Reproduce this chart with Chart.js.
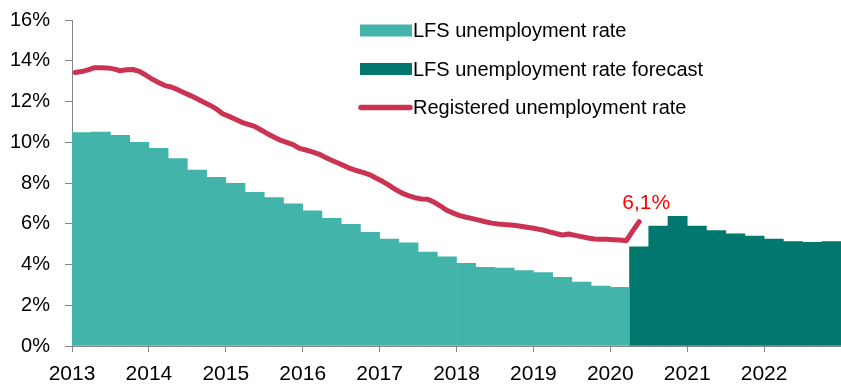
<!DOCTYPE html>
<html>
<head>
<meta charset="utf-8">
<script src="https://cdn.jsdelivr.net/npm/chart.js@4"></script>
<style>
  body { margin: 0; background: #fff; }
  #wrap { width: 841px; height: 387px; }
</style>
</head>
<body>
<div id="wrap"><canvas id="myChart"></canvas></div>
<script>
// data
const startYear = 2013;
const yearLabels = ["2013", "2014", "2015", "2016", "2017", "2018", "2019", "2020", "2021", "2022"];

// quarterly LFS rate, 2013Q1 - 2020Q1
const lfsActual = [10.47, 10.5, 10.34, 10.0, 9.7, 9.2, 8.64, 8.28, 7.98, 7.54, 7.28, 6.98,
  6.64, 6.27, 5.97, 5.58, 5.25, 5.06, 4.61, 4.38, 4.06, 3.86, 3.83, 3.7,
  3.6, 3.37, 3.14, 2.94, 2.88];
// quarterly forecast, 2020Q2 - 2022Q4
const lfsForecast = [4.87, 5.89, 6.36, 5.89, 5.66, 5.51, 5.4, 5.25, 5.12, 5.09, 5.12];

// monthly registered rate, Jan 2013 - May 2020
const registered = [13.42, 13.47, 13.55, 13.66, 13.66, 13.65, 13.6, 13.51, 13.56, 13.57, 13.48, 13.3,
  13.1, 12.93, 12.78, 12.71, 12.58, 12.43, 12.29, 12.14, 11.98, 11.82, 11.64, 11.4,
  11.27, 11.13, 10.98, 10.88, 10.78, 10.6, 10.42, 10.26, 10.1, 9.99, 9.88, 9.7,
  9.62, 9.53, 9.42, 9.26, 9.12, 8.98, 8.84, 8.7, 8.6, 8.51, 8.4, 8.23,
  8.07, 7.88, 7.68, 7.5, 7.38, 7.28, 7.22, 7.2, 7.06, 6.87, 6.66, 6.52,
  6.4, 6.32, 6.25, 6.18, 6.1, 6.03, 5.99, 5.96, 5.94, 5.9, 5.85, 5.8,
  5.75, 5.69, 5.6, 5.52, 5.45, 5.5, 5.43, 5.37, 5.3, 5.25, 5.24, 5.24,
  5.22, 5.2, 5.17, 5.65, 6.1];

const yTicks = [0, 2, 4, 6, 8, 10, 12, 14, 16];
const lastLabel = "6,1%";

const colActual = "#43b4a9";
const colForecast = "#00786d";
const colLine = "#cc3352";
const axisGrey = "#868686";

const fontFam = "'Liberation Sans', Arial, sans-serif";

// position helpers (middle of a quarter / month, in decimal years)
const qPos = (i) => startYear + (i + 0.5) / 4;
const mPos = (i) => startYear + (i + 0.5) / 12;

const actualPts = lfsActual.map((v, i) => ({ x: qPos(i), y: v }));
const forecastPts = lfsForecast.map((v, i) => ({ x: qPos(i + lfsActual.length), y: v }));
const registeredPts = registered.map((v, i) => ({ x: mPos(i), y: v }));

// legend drawn inside the plot
const legendPlugin = {
  id: "insideLegend",
  afterDraw(chart) {
    const ctx = chart.ctx;
    const items = [
      { ds: chart.data.datasets[1], kind: "box" },
      { ds: chart.data.datasets[2], kind: "box" },
      { ds: chart.data.datasets[0], kind: "line" },
    ];
    ctx.save();
    ctx.font = "20px " + fontFam;
    ctx.textBaseline = "middle";
    items.forEach((it, k) => {
      const y = 30.5 + k * 38.5;
      if (it.kind === "box") {
        ctx.fillStyle = it.ds.backgroundColor;
        ctx.fillRect(360, y - 6, 52, 12);
      } else {
        ctx.strokeStyle = it.ds.borderColor;
        ctx.lineWidth = 5.5;
        ctx.lineCap = "round";
        ctx.beginPath();
        ctx.moveTo(361, y);
        ctx.lineTo(410, y);
        ctx.stroke();
      }
      ctx.fillStyle = "#000";
      ctx.fillText(it.ds.label, 413, y + 1);
    });
    ctx.restore();
  },
};

// value label at the end of the registered line
const endLabelPlugin = {
  id: "endLabel",
  afterDatasetsDraw(chart) {
    const meta = chart.getDatasetMeta(0);
    const pt = meta.data[meta.data.length - 1];
    const ctx = chart.ctx;
    ctx.save();
    ctx.font = "21px " + fontFam;
    ctx.fillStyle = "#ff0000";
    ctx.textAlign = "center";
    ctx.textBaseline = "middle";
    ctx.fillText(lastLabel, pt.x + 7, pt.y - 19);
    ctx.restore();
  },
};

Chart.defaults.color = "#000";

new Chart(document.getElementById("myChart"), {
  data: {
    datasets: [
      {
        type: "line",
        label: "Registered unemployment rate",
        data: registeredPts,
        borderColor: colLine,
        borderWidth: 5,
        borderCapStyle: "round",
        borderJoinStyle: "round",
        pointRadius: 0,
        tension: 0,
        order: 0,
      },
      {
        type: "bar",
        label: "LFS unemployment rate",
        data: actualPts,
        backgroundColor: colActual,
        barPercentage: 1,
        categoryPercentage: 1,
        grouped: false,
        order: 1,
      },
      {
        type: "bar",
        label: "LFS unemployment rate forecast",
        data: forecastPts,
        backgroundColor: colForecast,
        barPercentage: 1,
        categoryPercentage: 1,
        grouped: false,
        order: 1,
      },
    ],
  },
  options: {
    responsive: true,
    maintainAspectRatio: false,
    animation: false,
    layout: { padding: { top: 20, right: 0, left: 0, bottom: 0 } },
    plugins: {
      legend: { display: false },
      tooltip: { enabled: false },
    },
    scales: {
      x: {
        type: "linear",
        offset: false,
        min: startYear,
        max: startYear + 10,
        afterBuildTicks: (s) => {
          s.ticks = yearLabels.map((l, i) => ({ value: startYear + i }));
        },
        afterFit: (s) => {
          s.height = 41;
        },
        ticks: {
          font: { family: fontFam, size: 21 },
          padding: 10,
          maxRotation: 0,
          autoSkip: false,
          callback: (v) => yearLabels[Math.round(v) - startYear],
        },
        grid: { drawOnChartArea: false, offset: false, color: axisGrey, tickLength: 6 },
        border: { color: axisGrey },
      },
      y: {
        min: 0,
        max: 16,
        afterBuildTicks: (s) => {
          s.ticks = yTicks.map((v) => ({ value: v }));
        },
        afterFit: (s) => {
          s.width = 72;
          s.paddingTop = 0;
          s.paddingBottom = 0;
        },
        ticks: {
          font: { family: fontFam, size: 20 },
          padding: 15,
          callback: (v) => v + "%",
        },
        grid: { drawOnChartArea: false, color: axisGrey, tickLength: 7 },
        border: { color: axisGrey },
      },
    },
  },
  plugins: [legendPlugin, endLabelPlugin],
});
</script>
</body>
</html>
